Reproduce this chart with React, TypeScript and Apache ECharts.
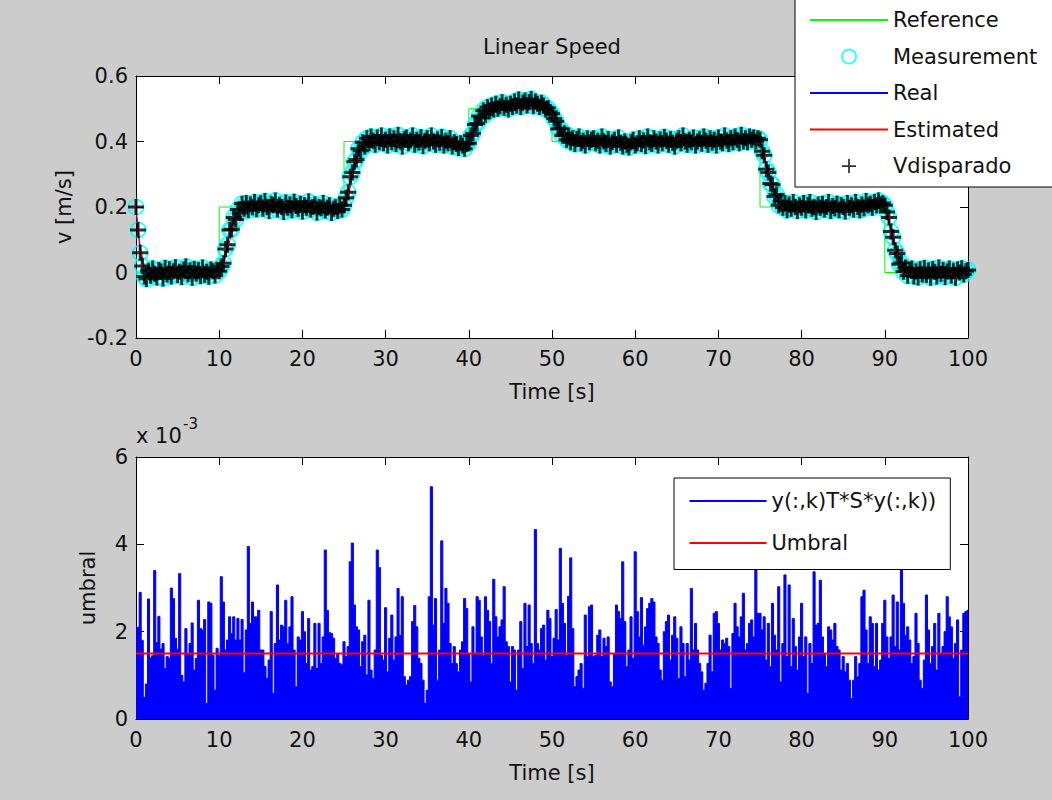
import React, { useEffect, useRef } from "react";
import * as echarts from "echarts";

// ---------- Data ----------
const MEAS_DT = 0.25; // s, sample spacing of measured / triggered speed
const MODEL_DT = 0.5; // s, sample spacing of real / estimated speed
const BOTTOM_DT = 0.25; // s, sample spacing of the test statistic

const referenceTimes = [0, 10, 25, 40, 50, 75, 90, 100];
const referenceValues = [0, 0.2, 0.4, 0.5, 0.4, 0.2, 0, 0];

const measuredSpeed = [
  0.2, 0.13, 0.06, 0.02, -0.012, -0.02, 0.005, -0.01, 0.012, -0.004, -0.015, 0.008, 0.003, -0.018, 0.014, -0.006, 0.01, -0.012, 0.004, 0.016,
  -0.008, 0.002, -0.014, 0.009, 0.018, -0.005, 0.006, -0.016, 0.011, -0.003, 0.007, -0.011, 0.015, -0.007, 0.002, -0.013, 0.009, 0.004, -0.009, 0.006,
  0.004, 0.018, 0.028, 0.072, 0.085, 0.13, 0.132, 0.168, 0.162, 0.192, 0.182, 0.21, 0.195, 0.212, 0.19, 0.208, 0.199, 0.215, 0.193, 0.205,
  0.212, 0.195, 0.218, 0.2, 0.188, 0.21, 0.205, 0.22, 0.192, 0.207, 0.2, 0.185, 0.214, 0.198, 0.208, 0.19, 0.216, 0.203, 0.195, 0.21,
  0.186, 0.205, 0.198, 0.217, 0.192, 0.2, 0.208, 0.183, 0.2, 0.196, 0.212, 0.189, 0.198, 0.205, 0.182, 0.195, 0.2, 0.188, 0.205, 0.192,
  0.205, 0.228, 0.245, 0.292, 0.305, 0.338, 0.345, 0.378, 0.372, 0.398, 0.385, 0.41, 0.395, 0.415, 0.402, 0.39, 0.412, 0.398, 0.418, 0.395,
  0.405, 0.388, 0.415, 0.398, 0.41, 0.392, 0.42, 0.4, 0.385, 0.408, 0.412, 0.395, 0.403, 0.418, 0.39, 0.405, 0.397, 0.413, 0.386, 0.402,
  0.41, 0.395, 0.418, 0.4, 0.39, 0.407, 0.396, 0.414, 0.388, 0.402, 0.395, 0.41, 0.385, 0.398, 0.392, 0.38, 0.395, 0.388, 0.378, 0.392,
  0.395, 0.418, 0.425, 0.452, 0.455, 0.478, 0.472, 0.495, 0.482, 0.505, 0.492, 0.51, 0.498, 0.515, 0.5, 0.508, 0.52, 0.503, 0.512, 0.498,
  0.515, 0.505, 0.522, 0.51, 0.528, 0.505, 0.518, 0.525, 0.51, 0.52, 0.53, 0.508, 0.522, 0.515, 0.505, 0.518, 0.51, 0.498, 0.502, 0.49,
  0.485, 0.47, 0.462, 0.438, 0.44, 0.418, 0.425, 0.405, 0.418, 0.398, 0.41, 0.392, 0.408, 0.415, 0.395, 0.402, 0.388, 0.41, 0.398, 0.405,
  0.41, 0.395, 0.402, 0.388, 0.415, 0.4, 0.392, 0.408, 0.385, 0.398, 0.405, 0.39, 0.412, 0.396, 0.385, 0.4, 0.39, 0.382, 0.398, 0.405,
  0.388, 0.395, 0.41, 0.392, 0.403, 0.386, 0.415, 0.398, 0.392, 0.41, 0.4, 0.388, 0.406, 0.395, 0.414, 0.402, 0.39, 0.408, 0.396, 0.385,
  0.402, 0.41, 0.395, 0.418, 0.4, 0.39, 0.405, 0.398, 0.412, 0.388, 0.4, 0.408, 0.393, 0.415, 0.402, 0.39, 0.41, 0.397, 0.405, 0.388,
  0.412, 0.4, 0.395, 0.418, 0.403, 0.392, 0.41, 0.398, 0.415, 0.405, 0.395, 0.42, 0.4, 0.41, 0.398, 0.415, 0.405, 0.412, 0.4, 0.41,
  0.405, 0.37, 0.358, 0.315, 0.305, 0.272, 0.268, 0.232, 0.238, 0.205, 0.218, 0.198, 0.212, 0.19, 0.208, 0.195, 0.215, 0.2, 0.188, 0.205,
  0.198, 0.212, 0.19, 0.205, 0.215, 0.195, 0.2, 0.185, 0.208, 0.198, 0.21, 0.192, 0.2, 0.215, 0.188, 0.203, 0.196, 0.21, 0.19, 0.205,
  0.2, 0.186, 0.212, 0.198, 0.205, 0.192, 0.215, 0.2, 0.19, 0.208, 0.196, 0.218, 0.205, 0.21, 0.198, 0.215, 0.205, 0.22, 0.208, 0.212,
  0.205, 0.185, 0.168, 0.125, 0.108, 0.068, 0.058, 0.025, 0.03, 0.002, 0.015, -0.01, 0.008, 0.012, -0.012, 0.004, -0.015, 0.01, -0.006, 0.014,
  -0.008, 0.006, -0.016, 0.011, 0.002, -0.012, 0.015, -0.004, 0.008, -0.014, 0.003, 0.012, -0.009, 0.005, -0.016, 0.009, 0.0, 0.013, -0.006, 0.004,
  0.008,
];

const realSpeed = [
  0.2, 0.06, 0.01, 0, 0, 0, 0, 0, 0, 0, 0, 0, 0, 0, 0, 0, 0, 0, 0, 0,
  0, 0.03, 0.09, 0.14, 0.17, 0.19, 0.2, 0.2, 0.2, 0.2,
  0.2, 0.2, 0.2, 0.2, 0.2, 0.2, 0.2, 0.2, 0.2, 0.2, 0.2, 0.2, 0.2, 0.2, 0.2, 0.2, 0.2, 0.2, 0.2, 0.2,
  0.2, 0.25, 0.31, 0.35, 0.38, 0.39, 0.4, 0.4, 0.4, 0.4,
  0.4, 0.4, 0.4, 0.4, 0.4, 0.4, 0.4, 0.4, 0.4, 0.4, 0.4, 0.4, 0.4, 0.4, 0.4, 0.4, 0.4, 0.4, 0.4, 0.4,
  0.4, 0.43, 0.46, 0.48, 0.49, 0.5, 0.5, 0.5, 0.5, 0.5,
  0.5, 0.5, 0.5, 0.5, 0.5, 0.5, 0.5, 0.5, 0.5, 0.5,
  0.5, 0.46, 0.43, 0.415, 0.405, 0.4, 0.4, 0.4, 0.4, 0.4,
  0.4, 0.4, 0.4, 0.4, 0.4, 0.4, 0.4, 0.4, 0.4, 0.4, 0.4, 0.4, 0.4, 0.4, 0.4, 0.4, 0.4, 0.4, 0.4, 0.4,
  0.4, 0.4, 0.4, 0.4, 0.4, 0.4, 0.4, 0.4, 0.4, 0.4, 0.4, 0.4, 0.4, 0.4, 0.4, 0.4, 0.4, 0.4, 0.4, 0.4,
  0.4, 0.35, 0.3, 0.26, 0.23, 0.21, 0.2, 0.2, 0.2, 0.2,
  0.2, 0.2, 0.2, 0.2, 0.2, 0.2, 0.2, 0.2, 0.2, 0.2, 0.2, 0.2, 0.2, 0.2, 0.2, 0.2, 0.2, 0.2, 0.2, 0.2,
  0.2, 0.15, 0.1, 0.06, 0.03, 0.015, 0.005, 0, 0, 0,
  0, 0, 0, 0, 0, 0, 0, 0, 0, 0, 0,
];

const estimatedSpeed = [
  0.19, 0.08, 0.02, 0.005, 0, 0, 0, 0, 0, 0, 0, 0, 0, 0, 0, 0, 0, 0, 0, 0,
  0, 0.02, 0.07, 0.12, 0.16, 0.18, 0.195, 0.2, 0.2, 0.2,
  0.2, 0.2, 0.2, 0.2, 0.2, 0.2, 0.2, 0.2, 0.2, 0.2, 0.2, 0.2, 0.2, 0.2, 0.2, 0.2, 0.2, 0.2, 0.2, 0.2,
  0.2, 0.23, 0.29, 0.34, 0.37, 0.385, 0.395, 0.4, 0.4, 0.4,
  0.4, 0.4, 0.4, 0.4, 0.4, 0.4, 0.4, 0.4, 0.4, 0.4, 0.4, 0.4, 0.4, 0.4, 0.4, 0.4, 0.4, 0.4, 0.4, 0.4,
  0.4, 0.42, 0.45, 0.47, 0.485, 0.495, 0.5, 0.5, 0.5, 0.5,
  0.5, 0.5, 0.5, 0.5, 0.5, 0.5, 0.5, 0.5, 0.5, 0.5,
  0.5, 0.47, 0.44, 0.42, 0.41, 0.402, 0.4, 0.4, 0.4, 0.4,
  0.4, 0.4, 0.4, 0.4, 0.4, 0.4, 0.4, 0.4, 0.4, 0.4, 0.4, 0.4, 0.4, 0.4, 0.4, 0.4, 0.4, 0.4, 0.4, 0.4,
  0.4, 0.4, 0.4, 0.4, 0.4, 0.4, 0.4, 0.4, 0.4, 0.4, 0.4, 0.4, 0.4, 0.4, 0.4, 0.4, 0.4, 0.4, 0.4, 0.4,
  0.4, 0.36, 0.31, 0.27, 0.24, 0.215, 0.205, 0.2, 0.2, 0.2,
  0.2, 0.2, 0.2, 0.2, 0.2, 0.2, 0.2, 0.2, 0.2, 0.2, 0.2, 0.2, 0.2, 0.2, 0.2, 0.2, 0.2, 0.2, 0.2, 0.2,
  0.2, 0.16, 0.11, 0.07, 0.04, 0.02, 0.008, 0.002, 0, 0,
  0, 0, 0, 0, 0, 0, 0, 0, 0, 0, 0,
];

// Vdisparado markers sit on the measured samples
const triggeredSpeed = measuredSpeed;

// y(:,k)' * S * y(:,k), in units of 1e-3
const testStatistic = [
  2.1, 2.1, 2.9, 1.8, 0.5, 0.8, 2.75, 1.4, 1.45, 3.4,
  1.75, 2.35, 1.6, 1.73, 1.16, 1.43, 1.39, 3.0, 2.76, 1.85,
  1.6, 3.33, 1.0, 0.85, 2.07, 1.5, 1.73, 2.2, 1.12, 1.39,
  2.72, 2.07, 2.04, 2.28, 0.36, 2.68, 2.65, 1.46, 0.66, 1.62,
  1.46, 3.26, 2.68, 1.58, 1.81, 2.34, 1.96, 2.34, 1.81, 2.3,
  1.81, 2.28, 1.06, 2.04, 3.95, 2.19, 2.68, 2.34, 2.34, 2.49,
  1.58, 1.58, 1.2, 0.93, 1.35, 2.46, 0.59, 1.73, 3.07, 1.81,
  2.15, 2.11, 2.72, 1.73, 2.11, 2.8, 1.58, 0.74, 1.88, 1.81,
  2.46, 2.0, 1.27, 2.3, 1.12, 1.2, 2.19, 1.16, 2.19, 1.27,
  1.88, 3.87, 2.49, 1.98, 1.96, 1.85, 1.39, 1.5, 1.27, 1.24,
  1.77, 1.43, 1.66, 3.6, 4.03, 2.61, 2.11, 2.04, 1.2, 1.77,
  1.92, 1.01, 2.72, 1.12, 0.93, 1.58, 3.87, 3.47, 1.46, 1.35,
  2.55, 1.08, 1.85, 2.38, 1.35, 1.88, 2.99, 1.92, 2.8, 0.97,
  0.78, 0.89, 0.97, 2.23, 2.6, 2.11, 1.39, 1.27, 0.89, 0.36,
  0.66, 2.8, 5.32, 2.15, 2.76, 0.89, 1.58, 4.08, 2.19, 2.99,
  2.65, 1.73, 1.27, 1.66, 1.27, 1.08, 1.58, 1.77, 2.76, 2.53,
  1.5, 0.85, 2.11, 1.5, 2.8, 2.72, 1.88, 1.46, 2.8, 2.49,
  2.23, 1.27, 3.2, 2.34, 1.88, 2.11, 2.27, 3.03, 1.77, 1.66,
  0.85, 1.66, 1.58, 0.66, 1.58, 2.23, 1.16, 2.65, 1.66, 2.61,
  1.73, 1.27, 4.34, 1.73, 1.58, 2.07, 2.15, 1.35, 2.49, 2.3,
  1.43, 1.85, 2.51, 1.81, 3.91, 2.65, 2.19, 1.46, 2.81, 3.69,
  2.07, 0.74, 0.97, 1.12, 1.27, 0.7, 2.38, 1.43, 2.57, 2.61,
  1.43, 1.46, 1.92, 2.04, 1.43, 1.85, 1.66, 1.88, 0.85, 0.74,
  1.5, 2.61, 2.46, 2.3, 3.6, 2.23, 1.2, 1.58, 2.34, 1.39,
  3.83, 2.46, 1.88, 2.78, 1.69, 2.11, 2.53, 2.65, 2.76, 2.68,
  1.88, 1.73, 1.12, 0.89, 2.0, 2.23, 2.38, 1.35, 1.92, 2.34,
  1.85, 0.93, 2.11, 1.73, 0.97, 1.73, 1.35, 2.99, 1.58, 2.19,
  1.58, 1.27, 1.08, 0.66, 0.82, 1.27, 1.92, 1.08, 2.42, 2.46,
  2.19, 1.58, 1.81, 1.73, 1.85, 1.66, 0.7, 1.96, 2.65, 2.11,
  1.88, 2.34, 2.88, 1.58, 1.73, 2.19, 2.27, 1.88, 3.56, 2.42,
  2.42, 2.04, 2.34, 1.35, 2.19, 1.2, 2.65, 1.92, 1.58, 3.03,
  0.85, 1.73, 3.3, 1.43, 3.07, 1.2, 2.3, 1.66, 1.12, 1.88,
  2.65, 1.43, 1.88, 0.59, 1.73, 1.27, 3.37, 2.15, 2.19, 3.18,
  1.88, 1.5, 1.2, 2.11, 2.04, 1.81, 2.19, 1.66, 1.58, 1.12,
  1.43, 1.08, 1.27, 0.89, 0.47, 0.89, 1.43, 0.97, 1.27, 2.8,
  2.95, 2.04, 1.27, 2.34, 2.19, 1.2, 2.19, 1.12, 1.35, 2.19,
  2.72, 1.88, 1.39, 1.88, 2.84, 1.66, 2.68, 1.58, 3.68, 2.65,
  1.92, 2.11, 1.81, 1.27, 1.43, 2.42, 1.73, 0.89, 0.7, 1.35,
  2.84, 2.04, 1.27, 1.66, 2.19, 1.12, 2.42, 1.5, 1.66, 2.0,
  2.8, 2.34, 2.11, 1.39, 1.73, 2.27, 0.51, 1.58, 2.42, 2.46,
  2.49,
];

const thresholdTimes = [0, 100];
const thresholdValues = [1.5, 1.5];

const TOP_TITLE = "Linear Speed";
const TOP_LEGEND = ["Reference", "Measurement", "Real", "Estimated", "Vdisparado"];
const BOTTOM_LEGEND = ["y(:,k)T*S*y(:,k))", "Umbral"];

// ---------- Styling ----------
const FONT = "DejaVu Sans";
const FS = 21;
const TXT = "#111111";
const BG = "#cccccc";
const PLUS = "path://M6.5,0H9.5V6.5H16V9.5H9.5V16H6.5V9.5H0V6.5H6.5Z";
const PLUS_THIN = "path://M7,0H9V7H16V9H9V16H7V9H0V7H7Z";
const LINE_ICON = "path://M0,0H78V2H0Z";

const pairs = (ts: number[], vs: number[]) => vs.map((v, i) => [ts[i], v]);
const sampleTimes = (vs: number[], dt: number) => vs.map((_, i) => i * dt);

const axisLineStyle = { color: "#000", width: 1 };

function xAxesFor(gridIndex: number, name: string) {
  return [
    {
      gridIndex,
      type: "value",
      min: 0,
      max: 100,
      interval: 10,
      position: "bottom",
      axisLine: { show: true, onZero: false, lineStyle: axisLineStyle },
      axisTick: { show: true, inside: true, length: 8, lineStyle: axisLineStyle },
      axisLabel: { show: true, margin: 10, fontSize: FS, fontFamily: FONT, color: TXT },
      splitLine: { show: false },
      name,
      nameLocation: "middle",
      nameGap: 43,
      nameTextStyle: { fontSize: FS, fontFamily: FONT, color: TXT },
    },
    {
      gridIndex,
      type: "value",
      min: 0,
      max: 100,
      interval: 10,
      position: "top",
      axisLine: { show: true, onZero: false, lineStyle: axisLineStyle },
      axisTick: { show: true, inside: true, length: 8, lineStyle: axisLineStyle },
      axisLabel: { show: false },
      splitLine: { show: false },
    },
  ];
}

function yAxesFor(gridIndex: number, min: number, max: number, interval: number, name: string, nameGap: number) {
  return [
    {
      gridIndex,
      type: "value",
      min,
      max,
      interval,
      position: "left",
      axisLine: { show: true, onZero: false, lineStyle: axisLineStyle },
      axisTick: { show: true, inside: true, length: 8, lineStyle: axisLineStyle },
      axisLabel: { show: true, margin: 8, fontSize: FS, fontFamily: FONT, color: TXT },
      splitLine: { show: false },
      name,
      nameLocation: "middle",
      nameGap,
      nameRotate: 90,
      nameTextStyle: { fontSize: FS, fontFamily: FONT, color: TXT },
    },
    {
      gridIndex,
      type: "value",
      min,
      max,
      interval,
      position: "right",
      axisLine: { show: true, onZero: false, lineStyle: axisLineStyle },
      axisTick: { show: true, inside: true, length: 8, lineStyle: axisLineStyle },
      axisLabel: { show: false },
      splitLine: { show: false },
    },
  ];
}

const legendText = { fontSize: FS, fontFamily: FONT, color: TXT, lineHeight: 21 };

function buildOption() {
  const measT = sampleTimes(measuredSpeed, MEAS_DT);
  const modelT = sampleTimes(realSpeed, MODEL_DT);
  const botT = sampleTimes(testStatistic, BOTTOM_DT);
  return {
    animation: false,
    backgroundColor: BG,
    grid: [
      { left: 136, top: 76, width: 832, height: 262, show: true, backgroundColor: "#fff", borderWidth: 0 },
      { left: 136, top: 457, width: 832, height: 262, show: true, backgroundColor: "#fff", borderWidth: 0 },
    ],
    xAxis: [...xAxesFor(0, "Time [s]"), ...xAxesFor(1, "Time [s]")],
    yAxis: [
      ...yAxesFor(0, -0.2, 0.6, 0.2, "v [m/s]", 62),
      ...yAxesFor(1, 0, 6, 2, "umbral", 38),
    ],
    legend: [
      {
        orient: "vertical",
        left: 795,
        top: -3,
        padding: [12.5, 40, 10.5, 15],
        itemGap: 15.5,
        itemWidth: 78,
        itemHeight: 14,
        backgroundColor: "#fff",
        borderColor: "#000",
        borderWidth: 1,
        selectedMode: false,
        textStyle: legendText,
        z: 10,
        data: [
          { name: TOP_LEGEND[0], icon: LINE_ICON },
          { name: TOP_LEGEND[1] },
          { name: TOP_LEGEND[2], icon: LINE_ICON },
          { name: TOP_LEGEND[3], icon: LINE_ICON },
          { name: TOP_LEGEND[4], icon: PLUS_THIN },
        ],
      },
      {
        orient: "vertical",
        left: 674,
        top: 478,
        padding: [12.5, 14, 16, 15.5],
        itemGap: 21,
        itemWidth: 77,
        itemHeight: 14,
        backgroundColor: "#fff",
        borderColor: "#000",
        borderWidth: 1,
        selectedMode: false,
        textStyle: legendText,
        z: 10,
        data: [
          { name: BOTTOM_LEGEND[0], icon: LINE_ICON },
          { name: BOTTOM_LEGEND[1], icon: LINE_ICON },
        ],
      },
    ],
    graphic: [
      {
        type: "text",
        x: 552,
        y: 47,
        style: { text: TOP_TITLE, fontSize: FS, fontFamily: FONT, fill: TXT, align: "center", verticalAlign: "middle" },
      },
      {
        type: "text",
        x: 136,
        y: 436,
        style: { text: "x 10", fontSize: FS, fontFamily: FONT, fill: TXT, align: "left", verticalAlign: "middle" },
      },
      {
        type: "text",
        x: 183,
        y: 424,
        style: { text: "-3", fontSize: 15, fontFamily: FONT, fill: TXT, align: "left", verticalAlign: "middle" },
      },
    ],
    series: [
      {
        name: TOP_LEGEND[0],
        type: "line",
        xAxisIndex: 0,
        yAxisIndex: 0,
        z: 2,
        step: "end",
        symbol: "none",
        lineStyle: { color: "#00ff00", width: 1 },
        itemStyle: { color: "#00ff00" },
        data: pairs(referenceTimes, referenceValues),
      },
      {
        name: TOP_LEGEND[1],
        type: "scatter",
        xAxisIndex: 0,
        yAxisIndex: 0,
        z: 3,
        symbol: "circle",
        symbolSize: 15,
        itemStyle: { color: "rgba(0,0,0,0)", borderColor: "#00ffff", borderWidth: 2 },
        data: pairs(measT, measuredSpeed),
      },
      {
        name: TOP_LEGEND[2],
        type: "line",
        xAxisIndex: 0,
        yAxisIndex: 0,
        z: 4,
        symbol: "none",
        lineStyle: { color: "#0000ff", width: 1 },
        itemStyle: { color: "#0000ff" },
        data: pairs(modelT, realSpeed),
      },
      {
        name: TOP_LEGEND[3],
        type: "line",
        xAxisIndex: 0,
        yAxisIndex: 0,
        z: 5,
        symbol: "none",
        lineStyle: { color: "#ff0000", width: 1 },
        itemStyle: { color: "#ff0000" },
        data: pairs(modelT, estimatedSpeed),
      },
      {
        name: TOP_LEGEND[4],
        type: "scatter",
        xAxisIndex: 0,
        yAxisIndex: 0,
        z: 6,
        symbol: PLUS,
        symbolSize: 16,
        itemStyle: { color: "#000" },
        data: pairs(measT, triggeredSpeed),
      },
      {
        name: BOTTOM_LEGEND[0],
        type: "line",
        xAxisIndex: 2,
        yAxisIndex: 2,
        step: "middle",
        symbol: "none",
        lineStyle: { color: "#0000ff", width: 1 },
        itemStyle: { color: "#0000ff" },
        areaStyle: { color: "#0000ff", opacity: 1 },
        data: pairs(botT, testStatistic),
      },
      {
        name: BOTTOM_LEGEND[1],
        type: "line",
        xAxisIndex: 2,
        yAxisIndex: 2,
        z: 3,
        symbol: "none",
        lineStyle: { color: "#ff0000", width: 2 },
        itemStyle: { color: "#ff0000" },
        data: pairs(thresholdTimes, thresholdValues),
      },
    ],
  };
}

export default function App() {
  const ref = useRef<HTMLDivElement>(null);
  useEffect(() => {
    if (!ref.current) return;
    const chart = echarts.init(ref.current, null, { renderer: "svg" });
    chart.setOption(buildOption() as any);
    return () => chart.dispose();
  }, []);
  return (
    <div
      ref={ref}
      style={{ position: "fixed", left: 0, top: 0, width: 1052, height: 800, background: BG }}
    />
  );
}
